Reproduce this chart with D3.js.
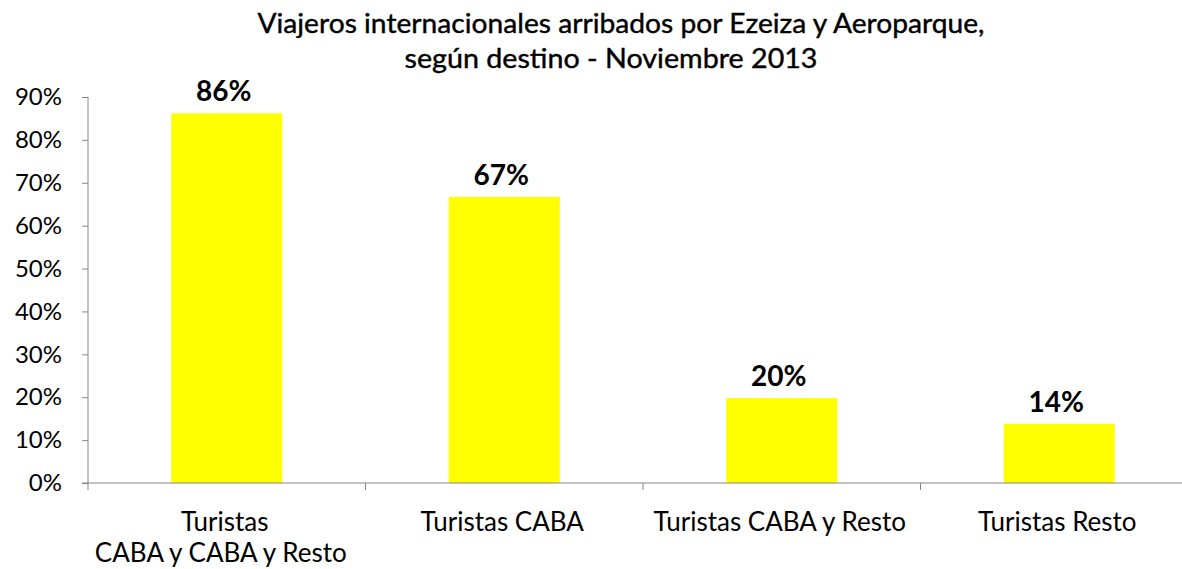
<!DOCTYPE html>
<html>
<head>
<meta charset="utf-8">
<script src="https://cdn.jsdelivr.net/npm/d3@7"></script>
<style>
  body { margin: 0; background: #fff; }
  svg { display: block; }
  text { font-family: Lato, "Open Sans", sans-serif; fill: #000; }
</style>
</head>
<body>
<script>
// chart data
var categories = ['Turistas\nCABA y CABA y Resto', 'Turistas CABA', 'Turistas CABA y Resto', 'Turistas Resto'];
var values = [0.862, 0.667, 0.198, 0.138];
var valueLabels = ['86%', '67%', '20%', '14%'];
var yTicks = [0, 0.1, 0.2, 0.3, 0.4, 0.5, 0.6, 0.7, 0.8, 0.9];
var titleLines = ['Viajeros internacionales arribados  por Ezeiza y Aeroparque,', 'según destino - Noviembre 2013'];

var width = 1182, height = 569;
var margin = { top: 97, left: 88, bottom: 86 };
var plotBottom = height - margin.bottom;

var svg = d3.select('body').append('svg')
    .attr('width', width)
    .attr('height', height);

// x covers 4 bands of ~277px, the last one runs off the right edge
var x = d3.scaleBand()
    .domain(d3.range(categories.length))
    .range([margin.left, margin.left + 4 * 277.5])
    .paddingInner(0.6)
    .paddingOuter(0.3);

var y = d3.scaleLinear()
    .domain([0, 0.9])
    .range([plotBottom, margin.top]);

// bars
svg.selectAll('.bar')
    .data(values)
    .enter().append('rect')
    .attr('class', 'bar')
    .attr('x', function(d, i) { return x(i); })
    .attr('y', function(d) { return y(d); })
    .attr('width', x.bandwidth())
    .attr('height', function(d) { return plotBottom - y(d); })
    .attr('fill', '#ffff00');

// value labels (excel puts them a hair left of centre)
svg.selectAll('.vlabel')
    .data(values)
    .enter().append('text')
    .attr('class', 'vlabel')
    .attr('x', function(d, i) { return x(i) + x.bandwidth() / 2 - 3; })
    .attr('y', function(d) { return y(d) - 12; })
    .attr('text-anchor', 'middle')
    .style('font-size', '28px')
    .style('font-weight', 'bold')
    .text(function(d, i) { return valueLabels[i]; });

// y axis
var yAxis = d3.axisLeft(y)
    .tickValues(yTicks)
    .tickFormat(d3.format('.0%'))
    .tickSize(6)
    .tickPadding(20);

var gy = svg.append('g')
    .attr('transform', 'translate(' + margin.left + ',0)')
    .call(yAxis);
gy.select('.domain').attr('d', 'M0,' + margin.top + 'V' + (plotBottom + 7));
gy.selectAll('line').attr('stroke', '#868686');
gy.select('.domain').attr('stroke', '#868686');
gy.selectAll('text')
    .style('font-size', '24px')
    .style('font-family', 'Lato, sans-serif')
    .attr('fill', '#000');

// x axis line and category ticks (ticks sit at band edges)
var step = x.step();
var edges = d3.range(categories.length).map(function(i) { return x(i) - x.paddingOuter() * step; });
svg.append('line')
    .attr('x1', margin.left - 6).attr('x2', width)
    .attr('y1', plotBottom).attr('y2', plotBottom)
    .attr('stroke', '#868686');
svg.selectAll('.ctick')
    .data(edges.slice(1))
    .enter().append('line')
    .attr('class', 'ctick')
    .attr('x1', function(d) { return d; }).attr('x2', function(d) { return d; })
    .attr('y1', plotBottom).attr('y2', plotBottom + 7)
    .attr('stroke', '#868686');

// category labels
var cl = svg.selectAll('.clabel')
    .data(categories)
    .enter().append('text')
    .attr('class', 'clabel')
    .attr('text-anchor', 'middle')
    .style('font-size', '26px')
    .attr('transform', function(d, i) {
        return 'translate(' + (x(i) + x.bandwidth() / 2) + ',' + (plotBottom + 48) + ')';
    });
cl.selectAll('tspan')
    .data(function(d) { return d.split('\n'); })
    .enter().append('tspan')
    .attr('x', function(d, i) { return i === 0 ? -2 : -6; })
    .attr('dy', function(d, i) { return i === 0 ? 0 : 31; })
    .text(function(d) { return d; });

// title
var titleX = [621, 611], titleW = [727, 413];
svg.selectAll('.title')
    .data(titleLines)
    .enter().append('text')
    .attr('class', 'title')
    .attr('x', function(d, i) { return titleX[i]; })
    .attr('y', function(d, i) { return 33 + i * 35; })
    .attr('text-anchor', 'middle')
    .attr('textLength', function(d, i) { return titleW[i]; })
    .attr('lengthAdjust', 'spacingAndGlyphs')
    .style('font-size', '27px')
    .style('font-weight', 'normal')
    .style('stroke', '#000')
    .style('stroke-width', '0.4px')
    .text(function(d) { return d; });
</script>
</body>
</html>
